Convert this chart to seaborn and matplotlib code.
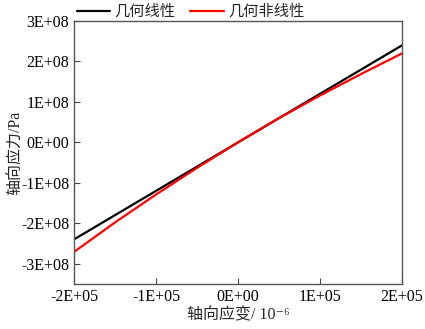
import numpy as np
import pandas as pd
import matplotlib
matplotlib.use('Agg')
import matplotlib.pyplot as plt
import seaborn as sns

# strain (10^-6) and axial stress (Pa)
strain_lin = [-2e5, 2e5]
stress_lin = [-2.4e8, 2.4e8]

strain_nl = [-2e5, -1.5e5, -1e5, -5e4, 0, 5e4, 1e5, 1.5e5, 2e5]
stress_nl = [-2.71e8, -1.98e8, -1.29e8, -0.63e8, 0, 0.60e8, 1.16e8, 1.69e8, 2.20e8]

xticks = [-2e5, -1e5, 0, 1e5, 2e5]
xtick_labels = ['-2E+05', '-1E+05', '0E+00', '1E+05', '2E+05']
yticks = [-3e8, -2e8, -1e8, 0, 1e8, 2e8, 3e8]
ytick_labels = ['-3E+08', '-2E+08', '-1E+08', '0E+00', '1E+08', '2E+08', '3E+08']

sns.set_style('ticks')
plt.rcParams['font.family'] = ['Liberation Serif', 'Noto Sans CJK SC', 'DejaVu Sans']

df = pd.concat([
    pd.DataFrame({'strain': strain_lin, 'stress': stress_lin, 'type': '几何线性'}),
    pd.DataFrame({'strain': strain_nl, 'stress': stress_nl, 'type': '几何非线性'}),
])

fig, ax = plt.subplots(figsize=(4.25, 3.29), dpi=100)
sns.lineplot(data=df, x='strain', y='stress', hue='type',
             palette={'几何线性': 'black', '几何非线性': '#ff0000'},
             linewidth=1.6, ax=ax)

ax.set_xlim(-2e5, 2e5)
ax.set_ylim(-3.5e8, 3e8)
ax.set_xticks(xticks)
ax.set_xticklabels(xtick_labels)
ax.set_yticks(yticks)
ax.set_yticklabels(ytick_labels)
ax.tick_params(direction='in', length=4, width=0.8, labelsize=11.5, colors='#444444',
               labelcolor='black')
for s in ax.spines.values():
    s.set_color('#555555')
    s.set_linewidth(1.0)

ax.set_xlabel('轴向应变/ 10⁻⁶', fontsize=11.5, labelpad=2)
ax.set_ylabel('轴向应力/Pa', fontsize=11.5)
ax.yaxis.set_label_coords(-0.155, 0.5)

ax.legend(loc='lower left', bbox_to_anchor=(-0.01, 0.985), ncol=2, frameon=False,
          fontsize=11, handlelength=2.2, columnspacing=1.0, borderaxespad=0,
          handletextpad=0.25)

fig.subplots_adjust(left=0.174, right=0.946, top=0.936, bottom=0.137)
fig.savefig('out.png', dpi=100)
